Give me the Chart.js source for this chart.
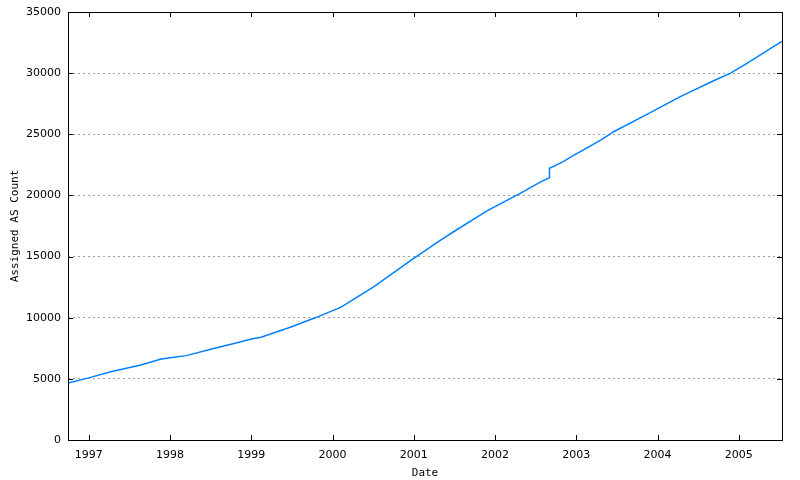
<!DOCTYPE html>
<html>
<head>
<meta charset="utf-8">
<script src="https://cdn.jsdelivr.net/npm/chart.js@4.4.1/dist/chart.umd.min.js"></script>
<style>
  html, body { margin: 0; padding: 0; background: #fff; }
  canvas { display: block; }
</style>
</head>
<body>
<canvas id="asChart" width="800" height="480"></canvas>
<script>
// dates as decimal years
const dates = [
  1996.744, 1997.00, 1997.27, 1997.64, 1997.88, 1998.00, 1998.20, 1998.50,
  1998.80, 1999.00, 1999.12, 1999.48, 1999.77, 2000.10, 2000.51, 2000.92,
  2001.04, 2001.33, 2001.49, 2001.90, 2002.31, 2002.55, 2002.67, 2002.67,
  2002.84, 2002.97, 2003.05, 2003.30, 2003.46, 2003.87, 2004.28, 2004.69,
  2004.90, 2005.10, 2005.51, 2005.532
];
const asCount = [
  4650, 5080, 5580, 6130, 6600, 6720, 6900, 7420,
  7910, 8260, 8400, 9220, 9950, 10850, 12540, 14480,
  15040, 16350, 17030, 18730, 20170, 21070, 21450, 22220,
  22760, 23300, 23580, 24530, 25210, 26630, 28080, 29380,
  30000, 30800, 32520, 32600
];
const yearTicks = [1997, 1998, 1999, 2000, 2001, 2002, 2003, 2004, 2005];
const countTicks = [0, 5000, 10000, 15000, 20000, 25000, 30000, 35000];

const xMin = 1996.744, xMax = 2005.532;
const tickLen = 5;

// gnuplot style: box round the plot, ticks pointing inward on all sides
const frame = {
  id: 'frame',
  afterDraw(chart) {
    const ctx = chart.ctx;
    const a = chart.chartArea;
    const xs = chart.scales.x, ys = chart.scales.y;
    ctx.save();
    ctx.strokeStyle = '#000';
    ctx.lineWidth = 1;
    ctx.beginPath();
    yearTicks.forEach(v => {
      const px = Math.round(xs.getPixelForValue(v)) + 0.5;
      ctx.moveTo(px, a.bottom); ctx.lineTo(px, a.bottom - tickLen);
      ctx.moveTo(px, a.top); ctx.lineTo(px, a.top + tickLen);
    });
    countTicks.forEach(v => {
      const py = Math.round(ys.getPixelForValue(v)) + 0.5;
      ctx.moveTo(a.left, py); ctx.lineTo(a.left + tickLen, py);
      ctx.moveTo(a.right, py); ctx.lineTo(a.right - tickLen, py);
    });
    ctx.stroke();
    ctx.strokeRect(Math.round(a.left) + 0.5, Math.round(a.top) + 0.5,
      Math.round(a.right - a.left), Math.round(a.bottom - a.top));
    ctx.restore();
  }
};

new Chart(document.getElementById('asChart').getContext('2d'), {
  type: 'line',
  data: {
    datasets: [{
      data: dates.map((d, i) => ({ x: d, y: asCount[i] })),
      borderColor: 'rgb(0,128,255)',
      borderWidth: 1.5,
      pointRadius: 0,
      tension: 0,
      fill: false
    }]
  },
  plugins: [frame],
  options: {
    responsive: false,
    animation: false,
    devicePixelRatio: 1,
    layout: { padding: { top: 12, right: 18, left: 0, bottom: 0 } },
    plugins: { legend: { display: false }, tooltip: { enabled: false } },
    scales: {
      x: {
        type: 'linear',
        min: xMin,
        max: xMax,
        afterBuildTicks: s => { s.ticks = yearTicks.map(v => ({ value: v })); },
        afterFit: s => { s.height = 40; s.paddingLeft = 0; s.paddingRight = 0; },
        grid: { display: false, drawTicks: false },
        border: { display: false },
        ticks: {
          autoSkip: false, maxRotation: 0, padding: 9,
          color: '#000', font: { family: 'DejaVu Sans', size: 11 },
          callback: v => String(v)
        },
        title: {
          display: true, text: 'Date', color: '#000',
          font: { family: 'DejaVu Sans Mono', size: 11 },
          padding: { top: 2, bottom: 0 }
        }
      },
      y: {
        min: 0,
        max: 35000,
        afterBuildTicks: s => { s.ticks = countTicks.map(v => ({ value: v })); },
        afterFit: s => { s.width = 68; s.paddingTop = 0; s.paddingBottom = 0; },
        grid: {
          drawTicks: false,
          color: '#a0a0a0',
          lineWidth: 1
        },
        border: { display: false, dash: [2, 3] },
        ticks: {
          padding: 7,
          color: '#000', font: { family: 'DejaVu Sans', size: 11 },
          callback: v => String(v)
        },
        title: {
          display: true, text: 'Assigned AS Count', color: '#000',
          font: { family: 'DejaVu Sans Mono', size: 11 },
          padding: { top: 9, bottom: 0 }
        }
      }
    }
  }
});
</script>
</body>
</html>
